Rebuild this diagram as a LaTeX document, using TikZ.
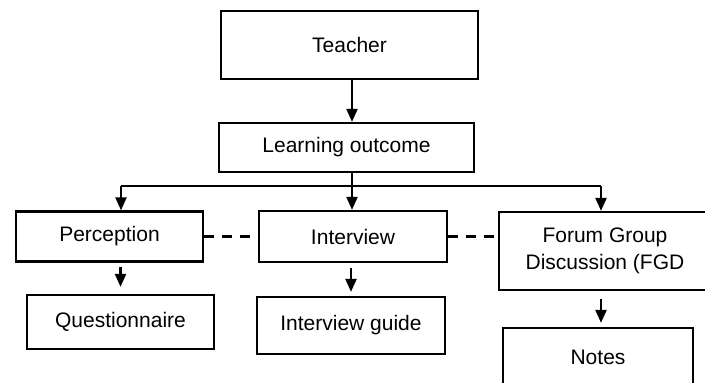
\documentclass[tikz,border=0pt]{standalone}
\usepackage{fontspec}
\setmainfont{Liberation Sans}
\usetikzlibrary{arrows.meta,positioning}
\tikzset{
  box/.style={draw,line width=2.3pt,inner sep=0pt,align=center,font=\fontsize{21}{26.7}\selectfont},
  arr/.style={line width=2.3pt,-{Triangle[length=13pt,width=11pt]}},
  link/.style={line width=2.6pt,dash pattern=on 10pt off 8pt}
}

\begin{document}
\begin{tikzpicture}[x=1pt,y=-1pt]
\useasboundingbox (0,0) rectangle (705,383);
\clip (0,0) rectangle (705,383);

\node[box,minimum width=257pt,minimum height=68pt] (teacher) at (349.5,45) {Teacher};
\node[box,minimum width=255pt,minimum height=49pt] (outcome) at (346.5,147.5) {Learning outcome};

\node[box,minimum width=187pt,minimum height=50pt] (perception) at (109.5,236.5) {Perception};
\node[box,minimum width=188pt,minimum height=51pt] (interview) at (353,236.5) {Interview};
\node[box,minimum width=212pt,minimum height=78pt] (fgd) at (605,251) {Forum Group\\Discussion (FGD};

\node[box,minimum width=187pt,minimum height=54pt] (questionnaire) at (120.5,322) {Questionnaire};
\node[box,minimum width=188pt,minimum height=57pt] (guide) at (351,325.5) {Interview guide};
\node[box,minimum width=190pt,minimum height=58pt] (notes) at (598,357) {Notes};

\coordinate (bus) at (352,186);
\coordinate (busL) at (121,186);
\coordinate (busR) at (601,186);

\draw[arr] (teacher.south -| bus) -- (outcome.north -| bus);
\draw[line width=2.3pt] (outcome.south -| bus) -- (bus);
\draw[line width=2.3pt] (busL) -- (busR);
\draw[arr] (busL) -- (busL |- perception.north);
\draw[arr] (bus) -- (bus |- interview.north);
\draw[arr] (busR) -- (busR |- fgd.north);

\draw[link] (perception.east) -- (perception.east -| interview.west);
\draw[link] (interview.east) -- (interview.east -| fgd.west);

\draw[arr,shorten <=4pt,shorten >=7pt] (questionnaire.north |- perception.south) -- (questionnaire.north);
\draw[arr,shorten <=5pt,shorten >=4pt] (guide.north |- interview.south) -- (guide.north);
\draw[arr,shorten <=8pt,shorten >=4pt] (busR |- fgd.south) -- (busR |- notes.north);
\end{tikzpicture}
\end{document}
